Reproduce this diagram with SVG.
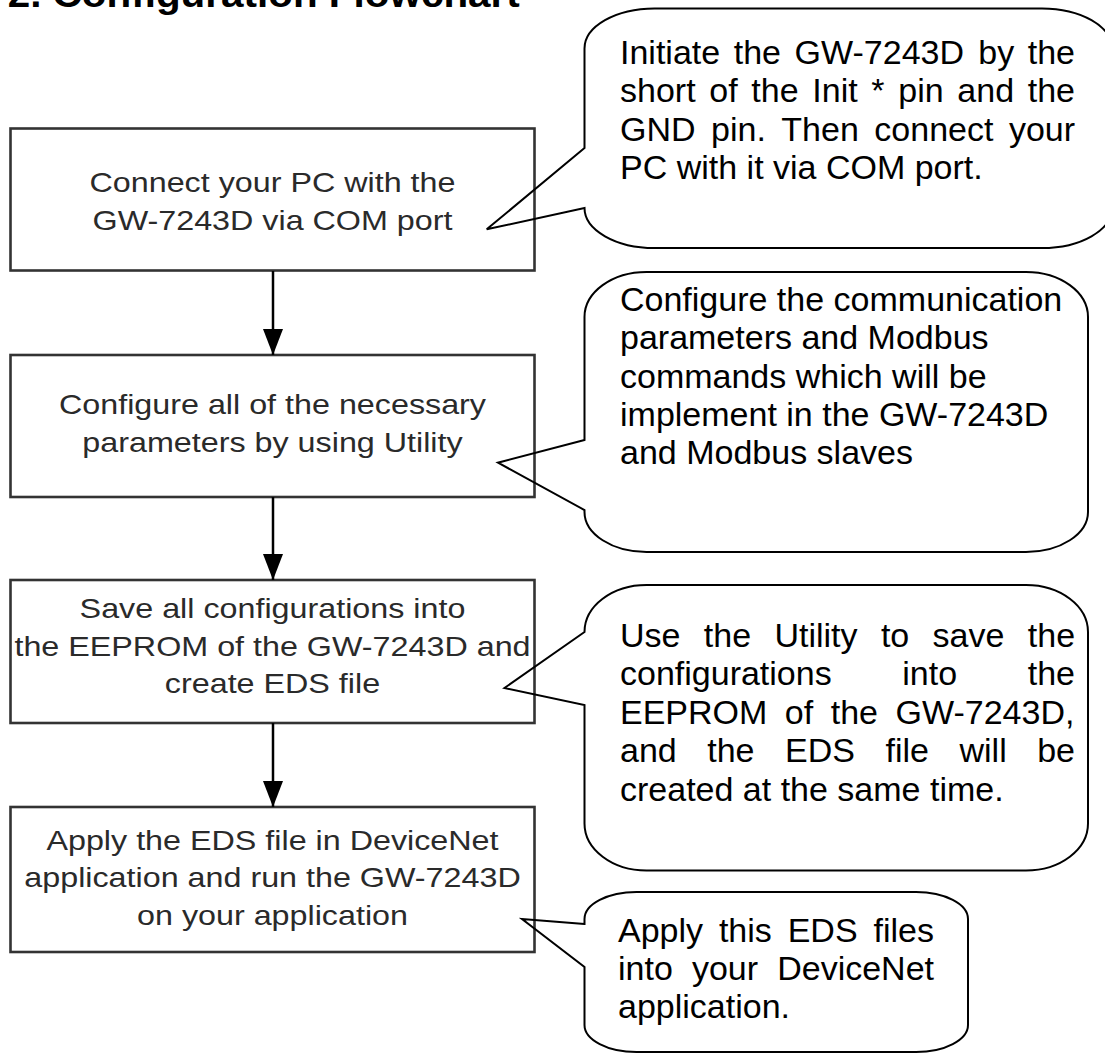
<svg xmlns="http://www.w3.org/2000/svg" width="1105" height="1057" viewBox="0 0 1105 1057">
<style>
.box{fill:#fff;stroke:#333;stroke-width:2.6}
.bub{fill:none;stroke:#000;stroke-width:2;stroke-linejoin:miter}
.bt{font-family:"Liberation Sans",Arial,sans-serif;font-size:28.5px;fill:#2a2a2a;text-anchor:middle}
.ct{font-family:"Liberation Sans",Arial,sans-serif;font-size:34px;fill:#000}
.title{font-family:"Liberation Sans",Arial,sans-serif;font-size:37px;font-weight:bold;fill:#000}
.conn{stroke:#000;stroke-width:2.5;fill:none}
</style>
<defs>
<marker id="arr" markerUnits="userSpaceOnUse" markerWidth="26" markerHeight="20" refX="26" refY="10" orient="auto"><path d="M0,0 L26,10 L0,20 Z" fill="#000"/></marker>
</defs>
<rect width="1105" height="1057" fill="#fff"/>
<text class="title" transform="scale(1.093 1)" x="7" y="7">2. Configuration Flowchart</text>

<g id="step1"><rect class="box" x="10.5" y="128.5" width="524" height="142"/>
<text class="bt" transform="scale(1.13333 1)"><tspan x="240.44" y="192.5">Connect your PC with the</tspan><tspan x="240.44" y="230.5">GW-7243D via COM port</tspan></text></g>

<g id="step2"><rect class="box" x="10.5" y="355" width="524" height="142"/>
<text class="bt" transform="scale(1.13333 1)"><tspan x="240.44" y="414">Configure all of the necessary</tspan><tspan x="240.44" y="452">parameters by using Utility</tspan></text></g>

<g id="step3"><rect class="box" x="10.5" y="580" width="524" height="143"/>
<text class="bt" transform="scale(1.13333 1)"><tspan x="240.44" y="618.5">Save all configurations into</tspan><tspan x="240.44" y="656">the EEPROM of the GW-7243D and</tspan><tspan x="240.44" y="693.5">create EDS file</tspan></text></g>

<g id="step4"><rect class="box" x="10.5" y="807" width="524" height="145"/>
<text class="bt" transform="scale(1.13333 1)"><tspan x="240.44" y="850">Apply the EDS file in DeviceNet</tspan><tspan x="240.44" y="887.5">application and run the GW-7243D</tspan><tspan x="240.44" y="925">on your application</tspan></text></g>

<g id="connectors">
<line class="conn" x1="273" y1="271" x2="273" y2="355" marker-end="url(#arr)"/>
<line class="conn" x1="273" y1="497" x2="273" y2="580" marker-end="url(#arr)"/>
<line class="conn" x1="273" y1="723" x2="273" y2="807" marker-end="url(#arr)"/>
</g>

<g id="note1">
<path class="bub" d="M584.5,148 L486.7,229.3 L584.5,208 A70 40 0 0 0 654.5,248 L1042,248 A70 40 0 0 0 1112,208 L1112,48.5 A70 40 0 0 0 1042,8.5 L654.5,8.5 A70 40 0 0 0 584.5,48.5 Z"/>
<text class="ct">
<tspan x="620" y="64">Initiate</tspan><tspan x="733.76" y="64">the</tspan><tspan x="794.62" y="64">GW-7243D</tspan><tspan x="978.25" y="64">by</tspan><tspan x="1027.75" y="64">the</tspan>
<tspan x="620" y="102.3">short</tspan><tspan x="709.28" y="102.3">of</tspan><tspan x="751.34" y="102.3">the</tspan><tspan x="812.3" y="102.3">Init</tspan><tspan x="871.36" y="102.3">*</tspan><tspan x="898.29" y="102.3">pin</tspan><tspan x="957.35" y="102.3">and</tspan><tspan x="1027.76" y="102.3">the</tspan>
<tspan x="620" y="140.6">GND</tspan><tspan x="711.04" y="140.6">pin.</tspan><tspan x="781.34" y="140.6">Then</tspan><tspan x="874.32" y="140.6">connect</tspan><tspan x="1008.88" y="140.6">your</tspan>
<tspan x="620" y="178.9">PC with it via COM port.</tspan>
</text></g>

<g id="note2">
<path class="bub" d="M584.5,440 L498,462.7 L584.5,510 L584.5,512 A62 40 0 0 0 646.5,552 L1026,552 A62 40 0 0 0 1088,512 L1088,317 A62 45 0 0 0 1026,272 L646.5,272 A62 45 0 0 0 584.5,317 Z"/>
<text class="ct">
<tspan x="620" y="311">Configure the communication</tspan>
<tspan x="620" y="349.3">parameters and Modbus</tspan>
<tspan x="620" y="387.6">commands which will be</tspan>
<tspan x="620" y="425.9">implement in the GW-7243D</tspan>
<tspan x="620" y="464.2">and Modbus slaves</tspan>
</text></g>

<g id="note3">
<path class="bub" d="M584.5,632 L504.5,688 L584.5,705 L584.5,823.5 A62 47 0 0 0 646.5,870.5 L1026,870.5 A62 47 0 0 0 1088,823.5 L1088,632 A62 47 0 0 0 1026,585 L646.5,585 A62 47 0 0 0 584.5,632 Z"/>
<text class="ct">
<tspan x="620" y="646.5">Use</tspan><tspan x="703.8" y="646.5">the</tspan><tspan x="774.4" y="646.5">Utility</tspan><tspan x="880.9" y="646.5">to</tspan><tspan x="932.6" y="646.5">save</tspan><tspan x="1027.8" y="646.5">the</tspan>
<tspan x="620" y="685">configurations</tspan><tspan x="902.3" y="685">into</tspan><tspan x="1027.75" y="685">the</tspan>
<tspan x="620" y="723.5">EEPROM</tspan><tspan x="784.86" y="723.5">of</tspan><tspan x="830.7" y="723.5">the</tspan><tspan x="895.5" y="723.5">GW-7243D,</tspan>
<tspan x="620" y="762">and</tspan><tspan x="707.24" y="762">the</tspan><tspan x="785.04" y="762">EDS</tspan><tspan x="885.48" y="762">file</tspan><tspan x="959.47" y="762">will</tspan><tspan x="1037.2" y="762">be</tspan>
<tspan x="620" y="800.5">created at the same time.</tspan>
</text></g>

<g id="note4">
<path class="bub" d="M584.5,924 L522,919 L584.5,967 L584.5,1025 A52 27 0 0 0 636.5,1052 L916,1052 A52 27 0 0 0 968,1025 L968,919 A52 27 0 0 0 916,892 L636.5,892 A52 27 0 0 0 584.5,919 Z"/>
<text class="ct">
<tspan x="618" y="941.5">Apply</tspan><tspan x="718.9" y="941.5">this</tspan><tspan x="787.7" y="941.5">EDS</tspan><tspan x="873.5" y="941.5">files</tspan>
<tspan x="618" y="979.8">into</tspan><tspan x="691.95" y="979.8">your</tspan><tspan x="777.2" y="979.8">DeviceNet</tspan>
<tspan x="618" y="1018.1">application.</tspan>
</text></g>
</svg>
